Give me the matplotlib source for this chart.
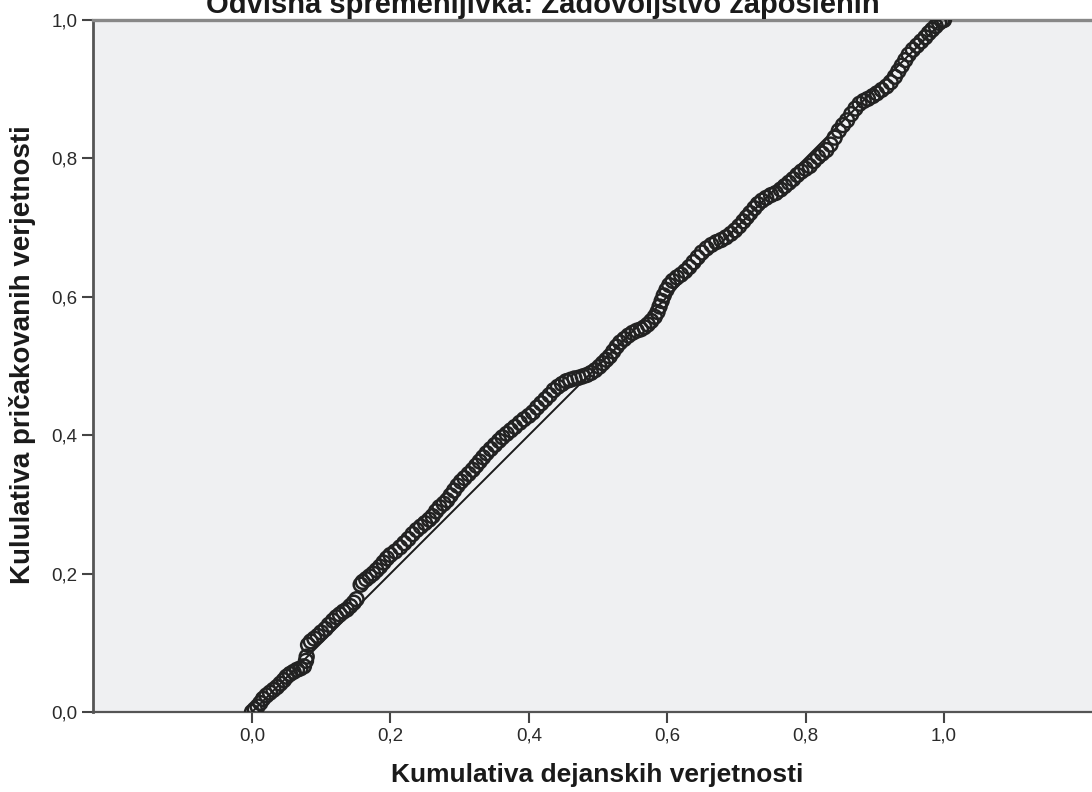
import matplotlib
matplotlib.use("Agg")
import matplotlib.pyplot as plt

plt.rcParams['font.family'] = ['Liberation Sans', 'DejaVu Sans']

title = "Odvisna spremenljivka: Zadovoljstvo zaposlenih"
x_label = "Kumulativa dejanskih verjetnosti"
y_label = "Kululativa pričakovanih verjetnosti"

tick_vals = [0.0, 0.2, 0.4, 0.6, 0.8, 1.0]
tick_labels = ["0,0", "0,2", "0,4", "0,6", "0,8", "1,0"]

# observed cumulative probability (x) vs expected cumulative probability (y)
obs = [0.000, 0.004, 0.008, 0.012, 0.016, 0.021, 0.026, 0.031, 0.036, 0.041,
       0.046, 0.050, 0.055, 0.060, 0.065, 0.070, 0.075, 0.078, 0.079, 0.081,
       0.085, 0.090, 0.095, 0.100, 0.106, 0.111, 0.117, 0.122, 0.127, 0.132,
       0.137, 0.142, 0.147, 0.151, 0.157, 0.160, 0.165, 0.170, 0.175, 0.180,
       0.185, 0.190, 0.195, 0.200, 0.207, 0.214, 0.220, 0.226, 0.232, 0.238,
       0.244, 0.250, 0.256, 0.261, 0.266, 0.271, 0.277, 0.282, 0.287, 0.292,
       0.297, 0.302, 0.307, 0.313, 0.319, 0.324, 0.329, 0.334, 0.339, 0.345,
       0.351, 0.357, 0.362, 0.368, 0.374, 0.380, 0.387, 0.393, 0.400, 0.406,
       0.412, 0.418, 0.424, 0.430, 0.436, 0.442, 0.448, 0.454, 0.460, 0.466,
       0.472, 0.478, 0.484, 0.490, 0.496, 0.502, 0.507, 0.512, 0.517, 0.522,
       0.527, 0.532, 0.538, 0.544, 0.550, 0.556, 0.562, 0.567, 0.572, 0.577,
       0.582, 0.586, 0.589, 0.592, 0.595, 0.599, 0.603, 0.608, 0.614, 0.620,
       0.626, 0.632, 0.638, 0.644, 0.650, 0.657, 0.664, 0.671, 0.678, 0.685,
       0.692, 0.698, 0.704, 0.710, 0.715, 0.720, 0.726, 0.731, 0.737, 0.743,
       0.750, 0.757, 0.764, 0.770, 0.776, 0.782, 0.788, 0.794, 0.800, 0.806,
       0.812, 0.818, 0.824, 0.830, 0.836, 0.842, 0.848, 0.854, 0.860, 0.866,
       0.872, 0.878, 0.884, 0.890, 0.897, 0.903, 0.910, 0.917, 0.923, 0.929,
       0.934, 0.939, 0.944, 0.949, 0.955, 0.961, 0.967, 0.973, 0.978, 0.983,
       0.988, 0.993, 0.997, 1.000]
exp = [0.000, 0.004, 0.008, 0.013, 0.019, 0.024, 0.028, 0.032, 0.036, 0.041,
       0.046, 0.051, 0.055, 0.058, 0.061, 0.063, 0.066, 0.074, 0.080, 0.097,
       0.102, 0.106, 0.110, 0.115, 0.120, 0.126, 0.132, 0.137, 0.141, 0.145,
       0.148, 0.153, 0.158, 0.163, 0.184, 0.188, 0.192, 0.196, 0.200, 0.205,
       0.210, 0.216, 0.222, 0.227, 0.232, 0.238, 0.244, 0.250, 0.257, 0.263,
       0.268, 0.273, 0.278, 0.283, 0.290, 0.296, 0.301, 0.306, 0.313, 0.320,
       0.327, 0.333, 0.338, 0.344, 0.350, 0.356, 0.362, 0.368, 0.374, 0.380,
       0.386, 0.392, 0.397, 0.402, 0.407, 0.412, 0.418, 0.423, 0.428, 0.433,
       0.440, 0.446, 0.452, 0.458, 0.465, 0.470, 0.474, 0.478, 0.480, 0.482,
       0.483, 0.485, 0.487, 0.490, 0.494, 0.499, 0.504, 0.509, 0.514, 0.521,
       0.528, 0.534, 0.539, 0.544, 0.548, 0.551, 0.553, 0.556, 0.560, 0.565,
       0.571, 0.578, 0.586, 0.594, 0.602, 0.610, 0.617, 0.623, 0.628, 0.632,
       0.637, 0.643, 0.650, 0.657, 0.664, 0.670, 0.675, 0.679, 0.682, 0.686,
       0.691, 0.696, 0.702, 0.709, 0.715, 0.721, 0.728, 0.734, 0.739, 0.743,
       0.747, 0.750, 0.755, 0.760, 0.765, 0.770, 0.776, 0.781, 0.785, 0.789,
       0.796, 0.802, 0.807, 0.812, 0.820, 0.830, 0.840, 0.848, 0.855, 0.864,
       0.872, 0.879, 0.883, 0.886, 0.890, 0.894, 0.899, 0.904, 0.910, 0.918,
       0.926, 0.934, 0.942, 0.950, 0.957, 0.963, 0.969, 0.975, 0.981, 0.986,
       0.991, 0.996, 0.999, 1.000]

W, H = 1092, 792
fig = plt.figure(figsize=(W / 100, H / 100), dpi=100)
# axes box in pixels: left spine x=93, bottom y=712, top y=20, runs off the right edge
ax = fig.add_axes([93 / W, (H - 712) / H, (W - 93) / W, 692 / H])
ax.set_facecolor("#eff0f2")

ax.plot([0, 1], [0, 1], color="#1a1a1a", lw=1.4, zorder=2)
ax.scatter(obs, exp, s=100, facecolors="none", edgecolors="#222222",
           linewidths=1.8, zorder=3)

ax.set_xlim(-0.2298, 1.2139)
ax.set_ylim(0, 1)
ax.set_xticks(tick_vals)
ax.set_xticklabels(tick_labels)
ax.set_yticks(tick_vals)
ax.set_yticklabels(tick_labels)
ax.tick_params(direction="out", length=8, width=1.5, color="#444444",
               labelsize=13.5, labelcolor="#2a2a2a", pad=3)

ax.spines["right"].set_visible(False)
ax.spines["left"].set_color("#555555")
ax.spines["left"].set_linewidth(2.0)
ax.spines["bottom"].set_color("#555555")
ax.spines["bottom"].set_linewidth(1.6)
ax.spines["top"].set_color("#888888")
ax.spines["top"].set_linewidth(2.4)

ax.set_xlabel(x_label, fontsize=19, fontweight="bold", color="#1a1a1a")
ax.xaxis.set_label_coords(0.5045, -0.091)
ax.xaxis.label.set_va("center")
ax.set_ylabel(y_label, fontsize=20, fontweight="bold", color="#1a1a1a")
ax.yaxis.set_label_coords(-0.071, 0.516)
ax.yaxis.label.set_va("center")
fig.text(543 / W, 1 - 13 / H, title, ha="center", va="baseline",
         fontsize=21, fontweight="bold", color="#1a1a1a")

fig.savefig("out.png", dpi=100)
